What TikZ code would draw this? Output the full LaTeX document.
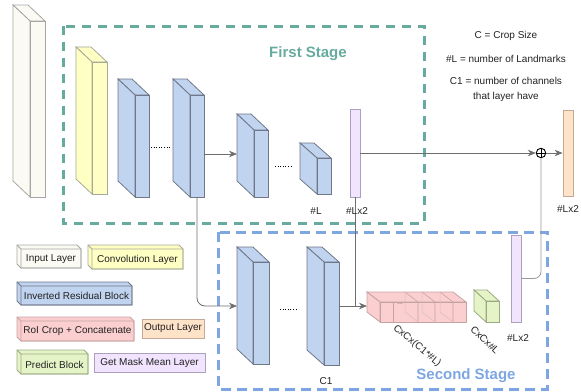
\documentclass[tikz,border=0pt]{standalone}
\usepackage{fontspec}
\setmainfont{Liberation Sans}
\usetikzlibrary{arrows.meta,calc}

\definecolor{cin}{HTML}{FBFBF3}
\definecolor{cinS}{HTML}{A6A6A6}
\definecolor{cconv}{HTML}{FFFFC4}
\definecolor{cconvS}{HTML}{A8A898}
\definecolor{cblue}{HTML}{C0D3EF}
\definecolor{cblueS}{HTML}{6F7888}
\definecolor{cpink}{HTML}{FBCFCF}
\definecolor{cpinkS}{HTML}{C6A3A3}
\definecolor{cout}{HTML}{FFE3C9}
\definecolor{coutS}{HTML}{C4AA96}
\definecolor{cgreen}{HTML}{E4F4C6}
\definecolor{cgreenS}{HTML}{9CAA84}
\definecolor{cpurp}{HTML}{F0E4FE}
\definecolor{cpurpS}{HTML}{ADA0BC}
\definecolor{cteal}{HTML}{67AB9F}
\definecolor{cdblue}{HTML}{7EA6E0}
\definecolor{cline}{HTML}{6E6E6E}
\definecolor{ctext}{HTML}{222222}

\tikzset{
  inblk/.style={fill=cin, draw=cinS, line width=0.8pt},
  convblk/.style={fill=cconv, draw=cconvS, line width=0.8pt},
  blueblk/.style={fill=cblue, draw=cblueS, line width=0.8pt},
  pinkblk/.style={fill=cpink, draw=cpinkS, line width=0.8pt},
  outblk/.style={fill=cout, draw=coutS, line width=0.8pt},
  greenblk/.style={fill=cgreen, draw=cgreenS, line width=0.8pt},
  purpblk/.style={fill=cpurp, draw=cpurpS, line width=0.8pt},
  lbl/.style={font=\fontsize{10}{15}\selectfont, text=ctext, inner sep=0pt},
  stagetitle/.style={font=\fontsize{15}{18}\selectfont\bfseries, inner sep=0pt},
  arr/.style={draw=cline, line width=0.8pt, -{Stealth[length=8pt,width=6.5pt,inset=2.5pt]}},
  conn/.style={draw=cline, line width=0.8pt},
  dotsline/.style={draw=black, line width=1pt, dash pattern=on 1pt off 1.6pt},
}

% cuboid: name, x, ytop, w, h, dx, dy, style
\newcommand{\cub}[8]{%
  \path[#8] (#2,#3) -- ++(-#6,-#7) -- ++(#4,0) -- ++(#6,#7) -- cycle;
  \path[#8] (#2,#3) -- ++(-#6,-#7) -- ++(0,#5) -- ++(#6,#7) -- cycle;
  \node[#8, rectangle, inner sep=0pt, outer sep=0pt, minimum width=#4pt, minimum height=#5pt, anchor=north west] (#1) at (#2,#3) {};
}
% legend cube: name, x1, y1, x2, y2, style, text
\newcommand{\lcube}[7]{%
  \path[#6] (#2,#3) -- (#4-4,#3) -- (#4,#3+4) -- (#4,#5) -- (#2+4,#5) -- (#2,#5-4) -- cycle;
  \draw[#6, fill=none] (#2,#3) -- (#2+4,#3+4) rectangle (#4,#5);
  \node[lbl] (#1) at ({(#2+4+#4)/2},{(#3+4+#5)/2+0.5}) {#7};
}

\begin{document}
\begin{tikzpicture}[x=1pt, y=-1pt]
\useasboundingbox (0,0) rectangle (581,391);

% stage frames
\draw[cteal, line width=3pt, dash pattern=on 9pt off 7pt] (63,26) rectangle (424,223);
\draw[cdblue, line width=3pt, dash pattern=on 10pt off 6pt] (218,232) rectangle (547,389);
\node[stagetitle, text=cteal] (t1) at (308,54) {First Stage};
\node[stagetitle, text=cdblue] (t2) at (466,376) {Second Stage};

% first stage blocks
\cub{inp}{30}{21}{15}{176}{17}{16}{inblk}
\cub{conv}{92}{62}{15}{132}{16}{15}{convblk}
\cub{b1}{135}{95}{14}{102}{17}{16}{blueblk}
\cub{b2}{190}{95}{14}{102}{17}{16}{blueblk}
\cub{b3}{254}{130}{14}{67}{17}{16}{blueblk}
\cub{b4}{317}{158}{14}{36}{17}{15}{blueblk}
\node[purpblk, rectangle, inner sep=0pt, minimum width=10pt, minimum height=88pt] (p1) at (355,153) {};
\node[outblk, rectangle, inner sep=0pt, minimum width=10pt, minimum height=86pt] (out) at (568,153) {};
\node[circle, draw=black, line width=0.9pt, minimum size=9.5pt, inner sep=0pt, fill=white,
      path picture={\draw[line width=0.9pt] (path picture bounding box.north) -- (path picture bounding box.south)
      (path picture bounding box.west) -- (path picture bounding box.east);}] (plus) at (541,153) {};

% second stage blocks
\cub{b5}{253}{262}{16}{102}{16}{15}{blueblk}
\cub{b6}{324}{262}{15}{103}{17}{15}{blueblk}
\cub{roi}{380}{302}{86}{20}{13}{10}{pinkblk}
\foreach \xx in {405,422,440}{
  \draw[cpinkS, line width=0.6pt] (\xx,292) -- (\xx+13,302) -- (\xx+13,322);
  \draw[cpinkS!70, line width=0.5pt] (\xx,292) -- (\xx,312) -- (\xx+13,322);
}
\draw[cpinkS, line width=0.6pt] (393,302) -- (393,322);
\node[font=\fontsize{7}{8}\selectfont, text=cline, inner sep=0pt] (rdots) at (400,304) {...};
\cub{pred}{486}{301}{13}{21}{12}{11}{greenblk}
\node[purpblk, rectangle, inner sep=0pt, minimum width=10pt, minimum height=87pt] (p2) at (516,278.5) {};

% connection points
\coordinate (b3in) at (237,154);
\coordinate (b5in) at (237,306);
\coordinate (roiin) at (367,306);

% connectors
\draw[arr] (b2.east |- b3in) -- (b3in);
\draw[arr] (p1.east) -- (plus.west);
\draw[arr] (plus.east) -- (out.west);
\draw[arr, rounded corners=8pt] (b2.south) -- (b2.south |- b5in) -- (b5in);
\draw[conn] (p1.south) -- (p1.south |- roiin);
\draw[arr] (b6.east |- roiin) -- (roiin);
\draw[draw=cline!70, line width=0.8pt, rounded corners=7pt] (p2.east) -- (p2.east -| plus) -- (plus.south);

% dotted gaps
\draw[dotsline] ($(b1.east)+(2,1)$) -- ++(19,0);
\draw[dotsline] ($(b3.east)+(7,2.5)$) -- ++(18,0);
\draw[dotsline] ($(b5.east)+(11,-4)$) -- ++(18,0);

% labels
\node[lbl] (l1) at (316,211) {\#L};
\node[lbl] (l2) at (357,211) {\#Lx2};
\node[lbl] (l3) at (568,209) {\#Lx2};
\node[lbl] (l4) at (326,381) {C1};
\node[lbl] (l5) at (518,338) {\#Lx2};
\node[lbl, rotate=-40] (l6) at (417,346) {CxCx(C1*\#L)};
\node[lbl, rotate=-44] (l7) at (485,340) {CxCx\#L};

% notes
\node[lbl] (n1) at (506,36) {C = Crop Size};
\node[lbl] (n2) at (506,59) {\#L = number of Landmarks};
\node[lbl, align=center] (n3) at (506,89) {C1 = number of channels\\that layer have};

% legend
\lcube{lg1}{17}{245}{81}{268}{inblk}{Input Layer}
\lcube{lg2}{88}{245}{183}{269}{convblk}{Convolution Layer}
\lcube{lg3}{17}{282}{132}{305}{blueblk}{Inverted Residual Block}
\lcube{lg4}{17}{317}{134}{341}{pinkblk}{RoI Crop + Concatenate}
\node[outblk, lbl, inner sep=0pt, minimum width=62pt, minimum height=19pt] (lg5) at (173,328.5) {Output Layer};
\lcube{lg6}{17}{350}{88}{374}{greenblk}{Predict Block}
\node[purpblk, lbl, inner sep=0pt, minimum width=111pt, minimum height=19pt] (lg7) at (149.5,362.5) {Get Mask Mean Layer};
\end{tikzpicture}
\end{document}
